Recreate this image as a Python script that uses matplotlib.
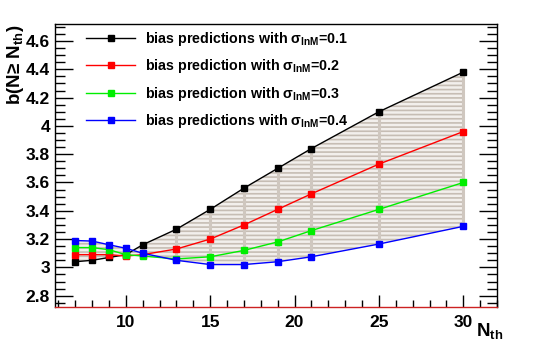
import numpy as np
import matplotlib
matplotlib.use("Agg")
import matplotlib.pyplot as plt

plt.rcParams['font.family'] = ['Liberation Sans', 'DejaVu Sans']
plt.rcParams['font.weight'] = 'bold'
plt.rcParams['mathtext.fontset'] = 'custom'
plt.rcParams['mathtext.rm'] = 'Liberation Sans:bold'
plt.rcParams['mathtext.bf'] = 'Liberation Sans:bold'
plt.rcParams['hatch.linewidth'] = 1.2

# thresholds N_th
n_th = [7, 8, 9, 10, 11, 13, 15, 17, 19, 21, 25, 30]

# bias b(N >= N_th) for the four scatter values
b_01 = [3.04, 3.05, 3.07, 3.09, 3.16, 3.27, 3.41, 3.56, 3.70, 3.84, 4.10, 4.38]
b_02 = [3.09, 3.09, 3.09, 3.08, 3.09, 3.13, 3.20, 3.30, 3.41, 3.52, 3.73, 3.96]
b_03 = [3.14, 3.14, 3.125, 3.09, 3.08, 3.06, 3.075, 3.12, 3.18, 3.26, 3.41, 3.60]
b_04 = [3.19, 3.186, 3.16, 3.135, 3.10, 3.05, 3.02, 3.02, 3.04, 3.075, 3.165, 3.29]

labels = ["bias predictions with σ$_{\\mathbf{lnM}}$=0.1",
          "bias prediction with σ$_{\\mathbf{lnM}}$=0.2",
          "bias prediction with σ$_{\\mathbf{lnM}}$=0.3",
          "bias predictions with σ$_{\\mathbf{lnM}}$=0.4"]
colors = ['black', '#ff0000', '#00ee00', '#0000ff']

fig = plt.figure(figsize=(5.52, 3.42), dpi=100)
ax = fig.add_axes([0.0996, 0.1023, 0.8008, 0.8275])

series = [b_01, b_02, b_03, b_04]
band_col = '#c6bdb4'

# grey band of intermediate predictions
for lo, hi in zip(series[:-1], series[1:]):
    ax.fill_between(n_th, lo, hi, facecolor='#f2efec', edgecolor=band_col,
                    hatch='----', linewidth=0, zorder=1)
allv = np.array(series)
ax.vlines(n_th, allv.min(axis=0), allv.max(axis=0), color='#cfc7bf', lw=2.2, zorder=2)

for y, c, lab in zip(series, colors, labels):
    ax.plot(n_th, y, color=c, lw=1.0, marker='s', ms=5, mec=c, mfc=c,
            label=lab, zorder=3)

ax.set_xlim(5.8, 32)
ax.set_ylim(2.72, 4.72)
ax.set_xticks([10, 15, 20, 25, 30])
ax.set_xticks(np.arange(6, 33, 1), minor=True)
ax.set_yticks([2.8, 3, 3.2, 3.4, 3.6, 3.8, 4, 4.2, 4.4, 4.6])
ax.set_yticklabels(['2.8', '3', '3.2', '3.4', '3.6', '3.8', '4', '4.2', '4.4', '4.6'])
ax.set_yticks(np.arange(2.75, 4.72, 0.05), minor=True)
ax.tick_params(axis='both', which='both', direction='in', labelsize=12.5)
ax.tick_params(axis='y', which='major', length=13, width=1, right=True)
ax.tick_params(axis='y', which='minor', length=7, width=1, right=True)
ax.tick_params(axis='x', which='major', length=9, width=1, top=False)
ax.tick_params(axis='x', which='minor', length=5, width=1, top=False)
ax.tick_params(axis='x', pad=6)
for s in ax.spines.values():
    s.set_linewidth(1.0)
ax.spines['bottom'].set_color('#cc2222')

ax.legend(loc='upper left', bbox_to_anchor=(0.045, 1.02), frameon=False,
          fontsize=10.3, handlelength=3.4, handletextpad=0.7, labelspacing=0.66,
          borderaxespad=0.4)

fig.text(0.028, 0.93, "b(N≥ N$_{\\mathbf{th}}$)", rotation=90, ha='center', va='top',
         fontsize=13.5, fontweight='bold')
fig.text(0.862, 0.0, "N$_{\\mathbf{th}}$", ha='left', va='bottom',
         fontsize=13.5, fontweight='bold')

fig.savefig("out.png", dpi=100)
